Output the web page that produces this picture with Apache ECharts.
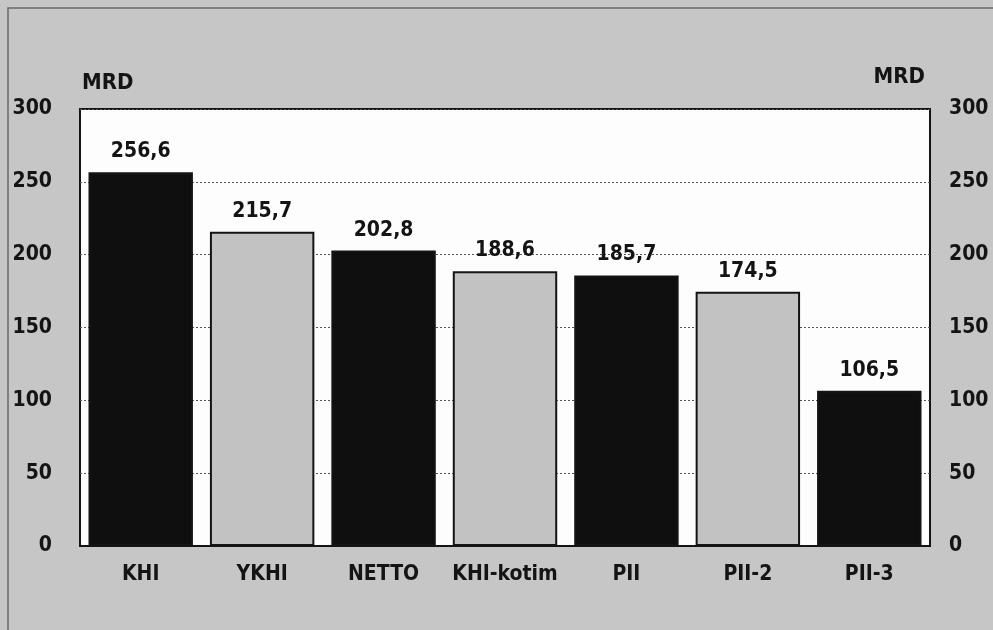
<!DOCTYPE html>
<html>
<head>
<meta charset="utf-8">
<script src="https://cdn.jsdelivr.net/npm/echarts@6/dist/echarts.min.js"></script>
<style>
html,body{margin:0;padding:0;background:#c6c6c6;}
#chart{width:993px;height:630px;}
</style>
</head>
<body>
<div id="chart"></div>
<script>
const categories = ['KHI', 'YKHI', 'NETTO', 'KHI-kotim', 'PII', 'PII-2', 'PII-3'];
const values = [256.6, 215.7, 202.8, 188.6, 185.7, 174.5, 106.5];
const unitLabel = 'MRD';

const FONT = '"Liberation Sans Narrow", "DejaVu Sans Condensed", sans-serif';
const INK = '#141414';

const chart = echarts.init(document.getElementById('chart'), null, {renderer: 'canvas'});

const yAxisBase = {
  type: 'value', min: 0, max: 300, interval: 50,
  axisLine: {show: false}, axisTick: {show: false},
  splitLine: {show: true, lineStyle: {color: '#555', type: [2, 2], width: 1}},
};

chart.setOption({
  backgroundColor: '#c6c6c6',
  animation: false,
  grid: {
    left: 80, right: 63, top: 109, bottom: 84,
    containLabel: false, outerBoundsMode: 'none',
    show: true, backgroundColor: '#fdfdfd', borderColor: INK, borderWidth: 2
  },
  graphic: [
    {type: 'rect', shape: {x: 8, y: 8, width: 1000, height: 640},
     style: {fill: 'none', stroke: '#6a6a6a', lineWidth: 1.5}, silent: true},
    {type: 'text', left: 82, top: 72,
     style: {text: unitLabel, font: 'bold 22px ' + FONT, fill: INK}},
    {type: 'text', right: 68, top: 66,
     style: {text: unitLabel, font: 'bold 22px ' + FONT, fill: INK}}
  ],
  xAxis: {
    type: 'category', data: categories,
    axisLine: {show: true, lineStyle: {color: INK, width: 2}},
    axisTick: {show: false},
    axisLabel: {interval: 0, color: INK, fontFamily: FONT, fontWeight: 'bold', fontSize: 21, margin: 18}
  },
  yAxis: [
    Object.assign({}, yAxisBase, {
      position: 'left',
      axisLabel: {color: INK, fontFamily: FONT, fontWeight: 'bold', fontSize: 21, margin: 28}
    }),
    Object.assign({}, yAxisBase, {
      position: 'right', splitLine: {show: false},
      axisLabel: {color: INK, fontFamily: FONT, fontWeight: 'bold', fontSize: 21, margin: 19, align: 'left'}
    })
  ],
  series: [{
    type: 'bar',
    data: values,
    barCategoryGap: '14%',
    itemStyle: {
      color: function (p) { return p.dataIndex % 2 === 0 ? '#0f0f0f' : '#c2c2c2'; },
      borderColor: INK, borderWidth: 2
    },
    label: {
      show: true, position: 'top', distance: 10,
      color: INK, fontFamily: FONT, fontWeight: 'bold', fontSize: 21,
      formatter: function (p) { return p.value.toFixed(1).replace('.', ','); }
    }
  }]
});
</script>
</body>
</html>
